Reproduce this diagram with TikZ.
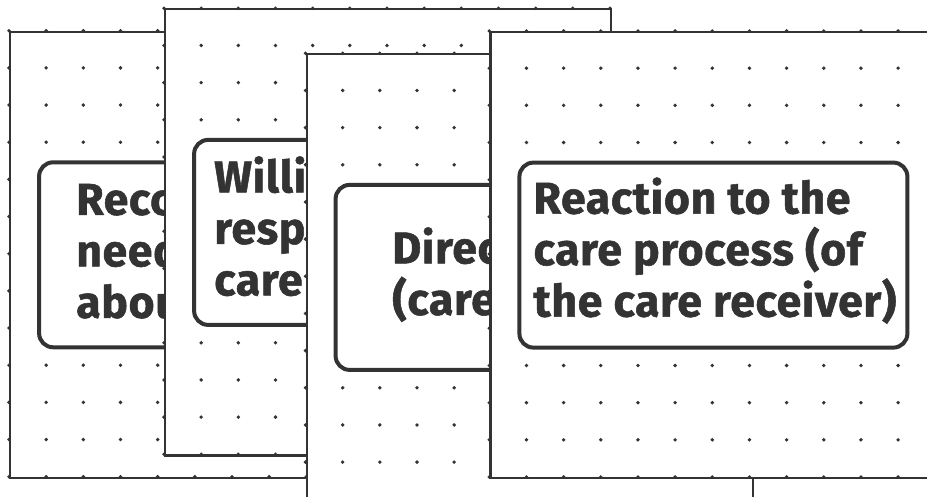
\documentclass[tikz,border=0pt]{standalone}
\usepackage{fontspec}
\setmainfont{Fira Sans}[BoldFeatures={FakeBold=1.2,LetterSpace=1.5}]
\usetikzlibrary{calc}
\definecolor{ink}{HTML}{333333}
\tikzset{
  card/.style={draw=ink, line width=2.2pt, fill=white, minimum width=446pt, minimum height=446pt, anchor=north west, inner sep=0pt},
  labelbox/.style={draw=ink, line width=4pt, rounded corners=14pt, fill=white, minimum width=388pt, minimum height=185pt, inner sep=0pt},
  labeltext/.style={text=ink, font=\fontsize{44.5}{51.5}\selectfont\bfseries, align=left, inner sep=0pt, anchor=base west},
}
\newcommand\drawcard[3]{%
  \node[card] (#1) at (#2,#3) {};
  \foreach \i in {0,...,12}{\foreach \j in {0,...,12}{
    \fill[ink] ($(#1.north west)+(\i*37.1667,\j*37.1667)$) circle (1.9pt);}}
  \node[labelbox] (#1box) at (#1.center) {};
}
\begin{document}
\begin{tikzpicture}[x=1pt,y=-1pt]
\useasboundingbox (0,0) rectangle (927,497);
\clip (0,0) rectangle (927,497);
\drawcard{c1}{9}{30.7}
\node[labeltext] (t1) at ($(c1.center)+(-157,63)$) {Recognizing\\needs (caring\\about)};
\drawcard{c2}{164}{8.3}
\node[labeltext] (t2) at ($(c2.center)+(-174,63)$) {Willingness to take\\responsibility for\\care (caring for)};
\drawcard{c3}{305.5}{53.3}
\node[labeltext] (t3) at ($(c3.center)+(-137.5,37.5)$) {Direct care\\(care giving)};
\drawcard{c4}{489.3}{31}
\node[labeltext] (t4) at ($(c4.center)+(-180,61.5)$) {Reaction to the\\care process (of\\the care receiver)};
\end{tikzpicture}
\end{document}
